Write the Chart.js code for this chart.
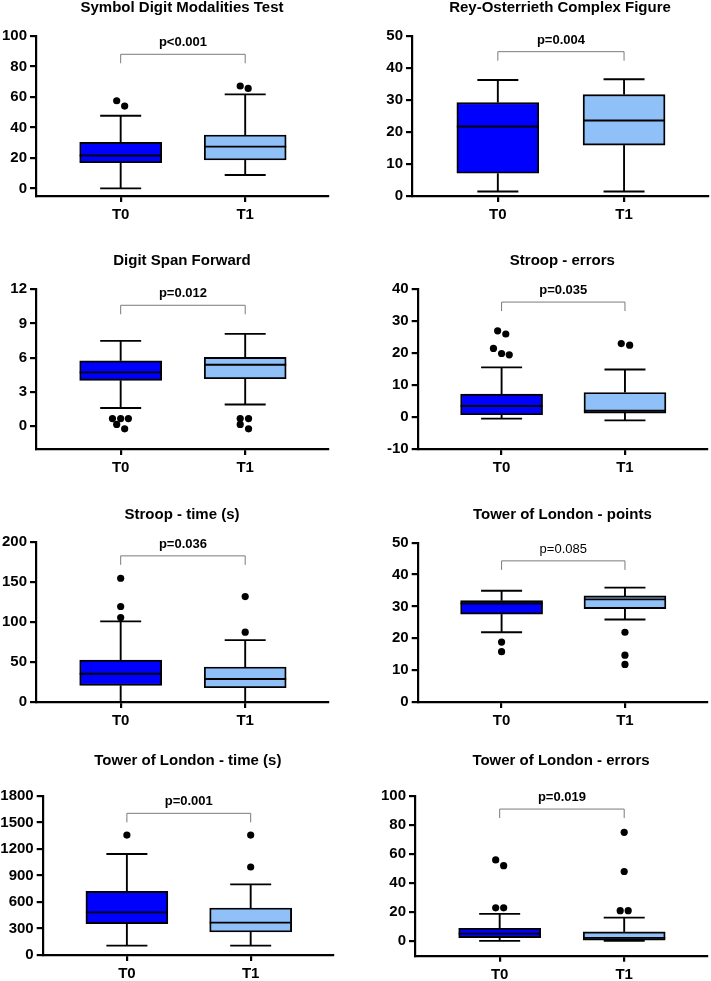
<!DOCTYPE html>
<html>
<head>
<meta charset="utf-8">
<script src="https://cdn.jsdelivr.net/npm/chart.js@4.4.1/dist/chart.umd.min.js"></script>
<style>
  body { margin: 0; background: #fff; }
  #page { position: relative; width: 711px; height: 981px; }
  #page canvas { position: absolute; }
</style>
</head>
<body>
<div id="page"></div>
<script>
/* Box plots of the cognitive tests, T0 vs T1 */
const groups = ['T0', 'T1'];
const titles = ['Symbol Digit Modalities Test', 'Rey-Osterrieth Complex Figure', 'Digit Span Forward', 'Stroop - errors',
    'Stroop - time (s)', 'Tower of London - points', 'Tower of London - time (s)', 'Tower of London - errors'];
const pLabels = ['p<0.001', 'p=0.004', 'p=0.012', 'p=0.035', 'p=0.036', 'p=0.085', 'p=0.001', 'p=0.019'];
const pValues = [0.001, 0.004, 0.012, 0.035, 0.036, 0.085, 0.001, 0.019];
const bracketAt = [88, 45.1, 10.6, 36, 183, 44.3, 1604, 91];

// box statistics, one [T0, T1] pair per test
const whiskerLow = [[0, 8.8], [1.4, 1.4], [1.6, 1.9], [-0.5, -1.05], [0, 0], [21.9, 25.9], [106, 106], [0.2, 0.3]];
const q1 = [[16.8, 18.6], [7.1, 15.9], [4.02, 4.16], [0.73, 1.25], [20.8, 17.9], [27.6, 29.3], [355, 260], [2.5, 0.7]];
const median = [[21.6, 27.4], [21.7, 23.6], [4.72, 5.39], [3.44, 1.97], [35.4, 28.8], [30.9, 32.2], [483, 366], [5.2, 2.3]];
const q3 = [[30.2, 35.0], [29.2, 31.7], [5.73, 6.03], [7.2, 7.7], [52.5, 43.8], [31.8, 33.3], [721, 532], [8.9, 6.4]];
const whiskerHigh = [[47.7, 61.7], [36.25, 36.5], [7.48, 8.09], [15.55, 14.9], [101, 77.5], [34.9, 35.9], [1143, 800], [18.8, 16.2]];

// outliers: [T0 points, T1 points], dx = sideways spread in group units
const outliers = [
    [[{dx: -0.032, y: 57.5}, {dx: 0.032, y: 54}], [{dx: -0.04, y: 67.2}, {dx: 0.024, y: 65.6}]],
    [[], []],
    [[{dx: -0.066, y: 0.67}, {dx: 0, y: 0.67}, {dx: 0.062, y: 0.67}, {dx: -0.032, y: 0.15}, {dx: 0.032, y: -0.23}],
     [{dx: -0.04, y: 0.67}, {dx: 0.027, y: 0.67}, {dx: -0.04, y: 0.15}, {dx: 0.027, y: -0.23}]],
    [[{dx: -0.032, y: 27}, {dx: 0.034, y: 26}, {dx: -0.066, y: 21.5}, {dx: 0, y: 19.9}, {dx: 0.062, y: 19.5}],
     [{dx: -0.03, y: 23}, {dx: 0.038, y: 22.5}]],
    [[{dx: 0, y: 155}, {dx: 0, y: 119.6}, {dx: 0, y: 105.8}], [{dx: 0, y: 132}, {dx: 0, y: 87.5}]],
    [[{dx: 0, y: 18.8}, {dx: 0, y: 15.8}], [{dx: 0, y: 21.9}, {dx: 0, y: 14.7}, {dx: 0, y: 11.8}]],
    [[{dx: 0, y: 1358}], [{dx: 0, y: 1358}, {dx: 0, y: 996}]],
    [[{dx: -0.032, y: 56}, {dx: 0.032, y: 52}, {dx: -0.032, y: 23}, {dx: 0.032, y: 23}],
     [{dx: 0, y: 75}, {dx: 0, y: 48}, {dx: -0.032, y: 21}, {dx: 0.032, y: 21}]]
];

// y axes
const yMin = [-5, 0, -2, -10, 0, 0, 0, -10];
const yMax = [100, 50, 12, 40, 200, 50, 1800, 100];
const yTicks = [
    [0, 20, 40, 60, 80, 100], [0, 10, 20, 30, 40, 50], [0, 3, 6, 9, 12], [-10, 0, 10, 20, 30, 40],
    [0, 50, 100, 150, 200], [0, 10, 20, 30, 40, 50], [0, 300, 600, 900, 1200, 1500, 1800], [0, 20, 40, 60, 80, 100]
];

// page layout (canvas box, plot area, title centre), in page pixels
const panels = [
    {x: 0,   y: 0,   w: 355, h: 245, left: 36,    top: 36,    right: 328, bottom: 196,   titleY: 7.5},
    {x: 355, y: 0,   w: 356, h: 245, left: 412,   top: 36,    right: 708, bottom: 196,   titleY: 7.5},
    {x: 0,   y: 245, w: 355, h: 245, left: 36,    top: 289.3, right: 328, bottom: 449,   titleY: 261},
    {x: 355, y: 245, w: 356, h: 245, left: 417.7, top: 289.3, right: 708, bottom: 449,   titleY: 261},
    {x: 0,   y: 490, w: 355, h: 245, left: 36,    top: 542.3, right: 328, bottom: 702,   titleY: 514.5},
    {x: 355, y: 490, w: 356, h: 245, left: 417.7, top: 542.7, right: 708, bottom: 702,   titleY: 514.5},
    {x: 0,   y: 735, w: 355, h: 246, left: 42.7,  top: 796,   right: 333, bottom: 955,   titleY: 761},
    {x: 355, y: 735, w: 356, h: 246, left: 415,   top: 796,   right: 708, bottom: 955.7, titleY: 761}
];

const FONT = "'Liberation Sans', Arial, sans-serif";
const boxColors = ['#0000ff', '#90c0f8'];
Chart.defaults.font.family = FONT;
Chart.defaults.color = '#000';

function boxParts(i) {
    return {
        id: 'boxParts' + i,
        afterDatasetsDraw(chart) {
            const ctx = chart.ctx, xs = chart.scales.x, ys = chart.scales.y;
            const bars = chart.getDatasetMeta(0).data;
            const seg = (x1, y1, x2, y2) => { ctx.beginPath(); ctx.moveTo(x1, y1); ctx.lineTo(x2, y2); ctx.stroke(); };
            ctx.save();
            ctx.strokeStyle = '#000';
            ctx.lineWidth = 1.9;
            groups.forEach((g, j) => {
                const cx = xs.getPixelForValue(j);
                const half = bars[j].width / 2, cap = half / 2;
                const hi = ys.getPixelForValue(whiskerHigh[i][j]), lo = ys.getPixelForValue(whiskerLow[i][j]);
                seg(cx, ys.getPixelForValue(q3[i][j]), cx, hi);
                seg(cx - cap, hi, cx + cap, hi);
                seg(cx, ys.getPixelForValue(q1[i][j]), cx, lo);
                seg(cx - cap, lo, cx + cap, lo);
                const m = ys.getPixelForValue(median[i][j]);
                seg(cx - half, m, cx + half, m);
            });
            // significance bracket
            const yb = ys.getPixelForValue(bracketAt[i]);
            const x0 = xs.getPixelForValue(0), x1 = xs.getPixelForValue(1);
            ctx.strokeStyle = '#7a7a7a';
            ctx.lineWidth = 1;
            ctx.beginPath();
            ctx.moveTo(x0, yb + 9); ctx.lineTo(x0, yb); ctx.lineTo(x1, yb); ctx.lineTo(x1, yb + 9);
            ctx.stroke();
            ctx.fillStyle = '#000';
            ctx.font = (pValues[i] < 0.05 ? 'bold ' : '') + '13px ' + FONT;
            ctx.textAlign = 'center';
            ctx.textBaseline = 'middle';
            ctx.fillText(pLabels[i], (x0 + x1) / 2, yb - 11.5);
            ctx.restore();
        }
    };
}

const page = document.getElementById('page');

panels.forEach((p, i) => {
    const canvas = document.createElement('canvas');
    canvas.width = p.w; canvas.height = p.h;
    canvas.style.left = p.x + 'px'; canvas.style.top = p.y + 'px';
    canvas.style.width = p.w + 'px'; canvas.style.height = p.h + 'px';
    page.appendChild(canvas);

    const padTop = p.titleY - p.y - 7.5;
    const axisStyle = { display: true, color: '#000', width: 2.2 };
    const tickGrid = { display: true, drawOnChartArea: false, drawTicks: true, tickLength: 6, color: '#000', lineWidth: 2.2, offset: false };

    new Chart(canvas, {
        type: 'bar',
        data: {
            datasets: [
                {
                    type: 'bar',
                    data: groups.map((g, j) => ({ x: j, y: [q1[i][j], q3[i][j]] })),
                    backgroundColor: boxColors,
                    borderColor: '#000',
                    borderWidth: 1.9,
                    borderSkipped: false,
                    barThickness: 82
                },
                {
                    type: 'scatter',
                    data: outliers[i].flatMap((pts, j) => pts.map(o => ({ x: j + o.dx, y: o.y }))),
                    backgroundColor: '#000',
                    borderWidth: 0,
                    pointRadius: 3.6
                }
            ]
        },
        options: {
            responsive: false,
            animation: false,
            events: [],
            layout: { padding: { left: 0, top: 0, bottom: 0, right: p.x + p.w - p.right } },
            plugins: {
                legend: { display: false },
                tooltip: { enabled: false },
                title: {
                    display: true,
                    text: titles[i],
                    fullSize: false,
                    color: '#000',
                    font: { size: 15, weight: 'bold', lineHeight: 1 },
                    padding: { top: padTop, bottom: (p.top - p.y) - padTop - 15 }
                }
            },
            scales: {
                x: {
                    type: 'linear',
                    min: -0.68,
                    max: 1.665,
                    offset: false,
                    grid: tickGrid,
                    border: axisStyle,
                    afterBuildTicks: axis => { axis.ticks = groups.map((g, j) => ({ value: j })); },
                    afterFit: axis => { axis.height = p.y + p.h - p.bottom; },
                    ticks: {
                        padding: 4,
                        font: { size: 15, weight: 'bold' },
                        callback: v => groups[v]
                    }
                },
                y: {
                    min: yMin[i],
                    max: yMax[i],
                    grid: tickGrid,
                    border: axisStyle,
                    afterBuildTicks: axis => { axis.ticks = yTicks[i].map(v => ({ value: v })); },
                    afterFit: axis => { axis.width = p.left - p.x; },
                    ticks: {
                        padding: 3,
                        font: { size: 15, weight: 'bold' },
                        callback: v => String(v)
                    }
                }
            }
        },
        plugins: [boxParts(i)]
    });
});
</script>
</body>
</html>
